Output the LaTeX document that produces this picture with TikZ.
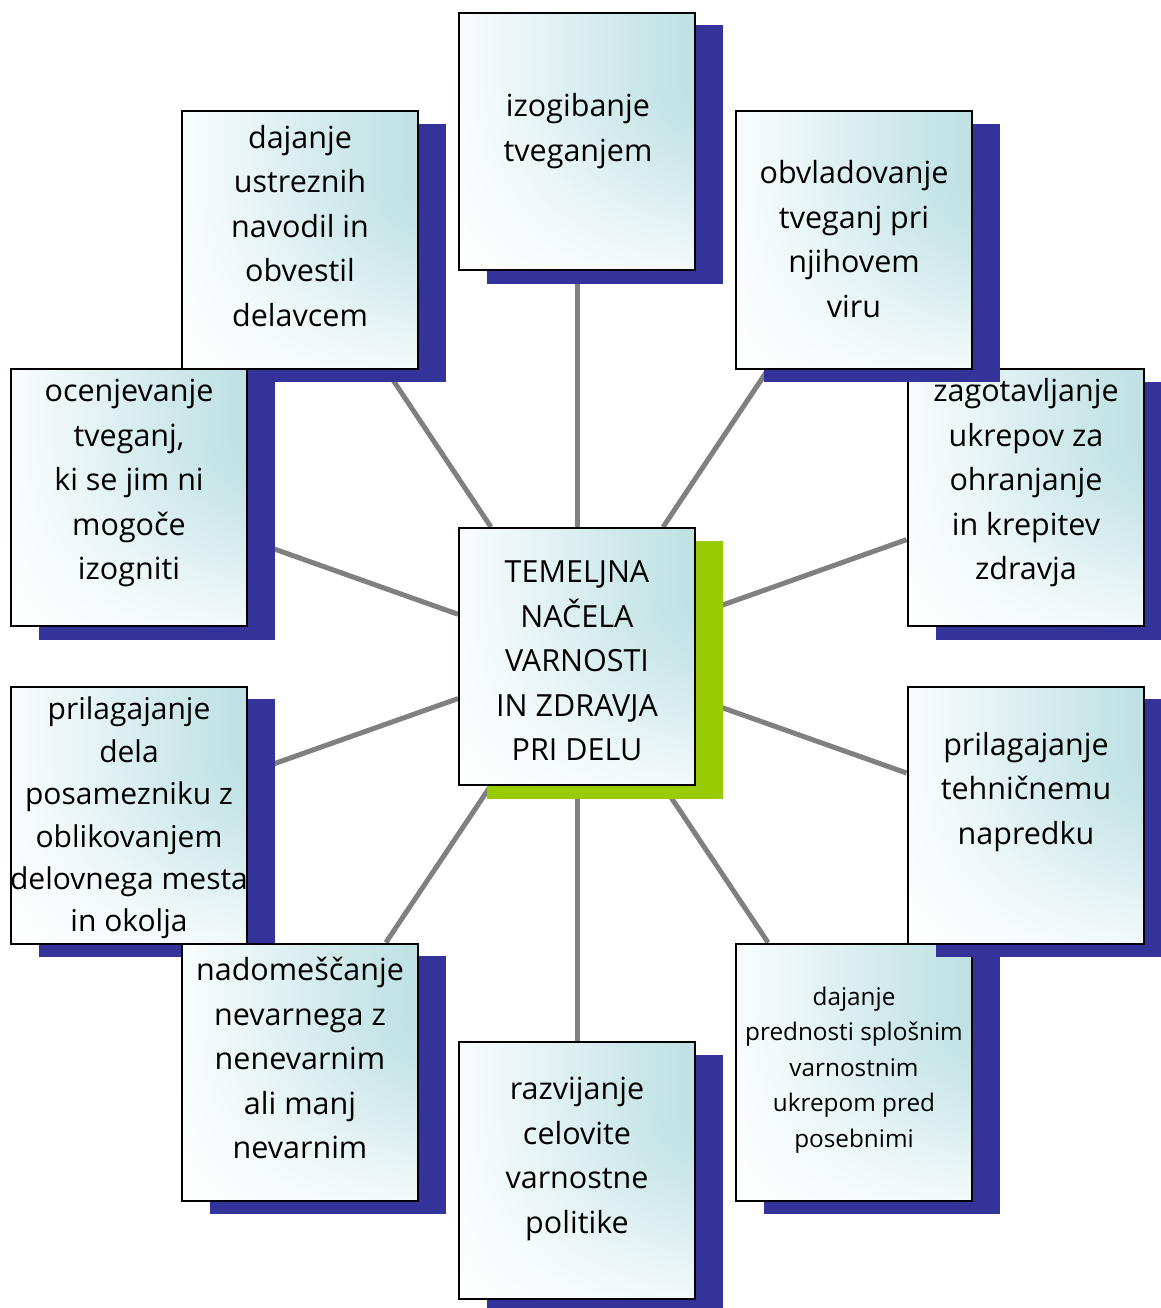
\documentclass[tikz,border=0pt]{standalone}
\usepackage{fontspec}
\setmainfont{Open Sans}
\usetikzlibrary{backgrounds}

\definecolor{shadowblue}{RGB}{51,51,153}
\definecolor{shadowgreen}{RGB}{153,204,0}
\definecolor{linkgray}{RGB}{128,128,128}

% card fill: white, tinted teal towards the upper right corner
% (the whole -50bp..50bp domain is stretched over the card)
\pgfdeclarefunctionalshading{cardglow}{\pgfpoint{-50bp}{-50bp}}{\pgfpoint{50bp}{50bp}}{}{
  50 add 100 div 0.10 sub 0.52 div
  dup 0 lt {pop 0} if dup 1 gt {pop 1} if
  dup dup mul exch 2 mul 3 exch sub mul
  exch 50 add 100 div 0.10 sub 0.75 div
  dup 0 lt {pop 0} if dup 1 gt {pop 1} if
  dup dup mul exch 2 mul 3 exch sub mul
  mul
  dup 0.262 mul 1 exch sub
  exch dup 0.122 mul 1 exch sub
  exch 0.110 mul 1 exch sub
}

\tikzset{
  card/.style={draw=black, line width=2pt, shade, shading=cardglow,
    minimum width=236pt, minimum height=257pt, inner sep=0pt},
  cardtext/.style={align=center, inner sep=0pt, font=\fontsize{30.5}{44.5}\selectfont},
  smalltext/.style={align=center, inner sep=0pt, font=\fontsize{24.3}{35.5}\selectfont},
  link/.style={draw=linkgray, line width=5pt}
}

% shadow block offset to the lower right, then the card itself
\newcommand\makecard[4]{%
  \fill[#4] ([shift={(#2,#3)}] -90,-116) rectangle ([shift={(#2,#3)}] 146,142);
  \node[card] (#1) at (#2,#3) {};
}

\begin{document}
\begin{tikzpicture}[x=1pt, y=-1pt]
\useasboundingbox (0,0) rectangle (1160,1308);

\makecard{top}{577}{141.5}{shadowblue}
\node[cardtext] (top-t) at (578,131) {izogibanje\\tveganjem};

\makecard{tl}{300}{240}{shadowblue}
\node[cardtext] (tl-t) at (300,226) {dajanje\\ustreznih\\navodil in\\obvestil\\delavcem};

\makecard{l}{129}{497.5}{shadowblue}
\node[cardtext] (l-t) at (129,483) {ocenjevanje\\tveganj,\\ki se jim ni\\mogoče\\izogniti};

\makecard{ll}{129}{815}{shadowblue}
\node[cardtext, font=\fontsize{30}{42.4}\selectfont] (ll-t) at (129,818) {prilagajanje\\dela\\posamezniku z\\oblikovanjem\\delovnega mesta\\in okolja};

\makecard{bl}{300}{1072}{shadowblue}
\node[cardtext] (bl-t) at (300,1058) {nadomeščanje\\nevarnega z\\nenevarnim\\ali manj\\nevarnim};

\makecard{b}{577}{1170.5}{shadowblue}
\node[cardtext] (b-t) at (577,1159) {razvijanje\\celovite\\varnostne\\politike};

\makecard{br}{854}{1072}{shadowblue}
\node[smalltext] (br-t) at (854,1070) {dajanje\\prednosti splošnim\\varnostnim\\ukrepom pred\\posebnimi};

\makecard{rl}{1025.5}{815}{shadowblue}
\node[cardtext] (rl-t) at (1026,792) {prilagajanje\\tehničnemu\\napredku};

\makecard{r}{1025.5}{497.5}{shadowblue}
\node[cardtext] (r-t) at (1026,483) {zagotavljanje\\ukrepov za\\ohranjanje\\in krepitev\\zdravja};

\makecard{tr}{854}{240}{shadowblue}
\node[cardtext] (tr-t) at (854,239) {obvladovanje\\tveganj pri\\njihovem\\viru};

\makecard{c}{577}{656.5}{shadowgreen}
\node[cardtext] (c-t) at (577,661) {TEMELJNA\\NAČELA\\VARNOSTI\\IN ZDRAVJA\\PRI DELU};

% spokes from the central card, kept behind every card
\begin{scope}[on background layer]
  \foreach \n in {top,tl,l,ll,bl,b,br,rl,r,tr}
    \draw[link] (c) -- (\n);
\end{scope}
\end{tikzpicture}
\end{document}
